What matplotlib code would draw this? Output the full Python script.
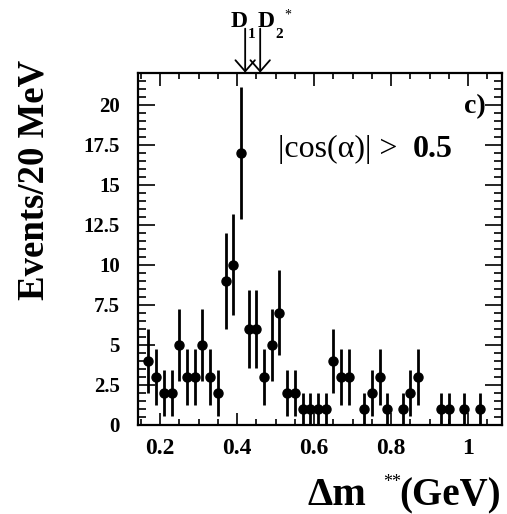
import numpy as np
import matplotlib
matplotlib.use("Agg")
import matplotlib.pyplot as plt
from matplotlib.ticker import MultipleLocator, FixedLocator

# bin centres (GeV) of the non-empty 20 MeV bins, counts and their errors
dm = [0.17, 0.19, 0.21, 0.23, 0.25, 0.27, 0.29, 0.31, 0.33, 0.35,
      0.37, 0.39, 0.41, 0.43, 0.45, 0.47, 0.49, 0.51, 0.53, 0.55,
      0.57, 0.59, 0.61, 0.63, 0.65, 0.67, 0.69, 0.73, 0.75, 0.77,
      0.79, 0.83, 0.85, 0.87, 0.93, 0.95, 0.99, 1.03]
counts = [4, 3, 2, 2, 5, 3, 3, 5, 3, 2,
          9, 10, 17, 6, 6, 3, 5, 7, 2, 2,
          1, 1, 1, 1, 4, 3, 3, 1, 2, 3,
          1, 1, 2, 3, 1, 1, 1, 1]
errs = [2.0, 1.73, 1.41, 1.41, 2.24, 1.73, 1.73, 2.24, 1.73, 1.41,
        3.0, 3.16, 4.12, 2.45, 2.45, 1.73, 2.24, 2.65, 1.41, 1.41,
        1.0, 1.0, 1.0, 1.0, 2.0, 1.73, 1.73, 1.0, 1.41, 1.73,
        1.0, 1.0, 1.41, 1.73, 1.0, 1.0, 1.0, 1.0]

# resonance positions marked above the frame
res_x = [0.421, 0.46]

yticks = [0, 2.5, 5, 7.5, 10, 12.5, 15, 17.5, 20]
ylabs = ["0", "2.5", "5", "7.5", "10", "12.5", "15", "17.5", "20"]
xticks = [0.2, 0.4, 0.6, 0.8, 1.0]
xlabs = ["0.2", "0.4", "0.6", "0.8", "1"]

plt.rcParams["font.family"] = ["Liberation Serif", "DejaVu Serif"]

W, H = 507, 514
fig = plt.figure(figsize=(W / 100, H / 100), dpi=100)
ax = fig.add_axes([137.7 / W, 1 - 425 / H, 364 / W, 352.3 / H])


def px(x, y):
    return x / W, 1 - y / H


ax.errorbar(dm, counts, yerr=errs, fmt="o", color="black", ms=6.5,
            elinewidth=2.0, capsize=0)

ax.set_xlim(0.142, 1.087)
ax.set_ylim(0, 22)

ax.xaxis.set_major_locator(FixedLocator(xticks))
ax.xaxis.set_minor_locator(MultipleLocator(0.05))
ax.yaxis.set_major_locator(FixedLocator(yticks))
ax.yaxis.set_minor_locator(MultipleLocator(0.5))
ax.set_xticklabels(xlabs, fontsize=17, fontweight="bold")
ax.set_yticklabels(ylabs, fontsize=15, fontweight="bold")
ax.tick_params(which="both", direction="in", top=True, right=True, width=1.2)
ax.tick_params(axis="x", which="major", length=9, pad=9)
ax.tick_params(axis="x", which="minor", length=4.5)
ax.tick_params(axis="y", which="major", length=12, pad=13)
ax.tick_params(axis="y", which="minor", length=6)
for s in ax.spines.values():
    s.set_linewidth(1.6)

# arrows for D1 and D2*
for xr in res_x:
    ax.annotate("", xy=(xr, 1.0), xytext=(xr, 1.125),
                xycoords=("data", "axes fraction"),
                textcoords=("data", "axes fraction"),
                arrowprops=dict(arrowstyle="->,head_length=0.8,head_width=0.7",
                                color="black", lw=1.3, mutation_scale=10,
                                shrinkA=0, shrinkB=0),
                annotation_clip=False)
fig.text(*px(231, 27), "D", fontsize=17, fontweight="bold", va="baseline")
fig.text(*px(248, 38), "1", fontsize=11, fontweight="bold", va="baseline")
fig.text(*px(258, 27), "D", fontsize=17, fontweight="bold", va="baseline")
fig.text(*px(275, 38), "2", fontsize=11, fontweight="bold", va="baseline")
fig.text(*px(284, 19), "*", fontsize=10, va="baseline")

ax.text(0.385, 0.762, "|cos(\u03b1)| >", transform=ax.transAxes,
        fontsize=23, va="baseline")
ax.text(0.757, 0.762, "0.5", transform=ax.transAxes,
        fontsize=23, fontweight="bold", va="baseline")
ax.text(0.927, 0.905, "c)", transform=ax.transAxes, fontsize=20,
        fontweight="bold", ha="center", va="center")

# axis titles
fig.text(*px(34, 180), "Events/20 MeV", rotation=90, fontsize=26.5,
         fontweight="bold", ha="center", va="center")
fig.text(*px(308, 505), "\u0394m", fontsize=29, fontweight="bold",
         va="baseline")
fig.text(*px(383, 487), "**", fontsize=13, va="baseline")
fig.text(*px(399, 505), "(GeV)", fontsize=28, fontweight="bold",
         va="baseline")

fig.savefig("out.png", dpi=100)
